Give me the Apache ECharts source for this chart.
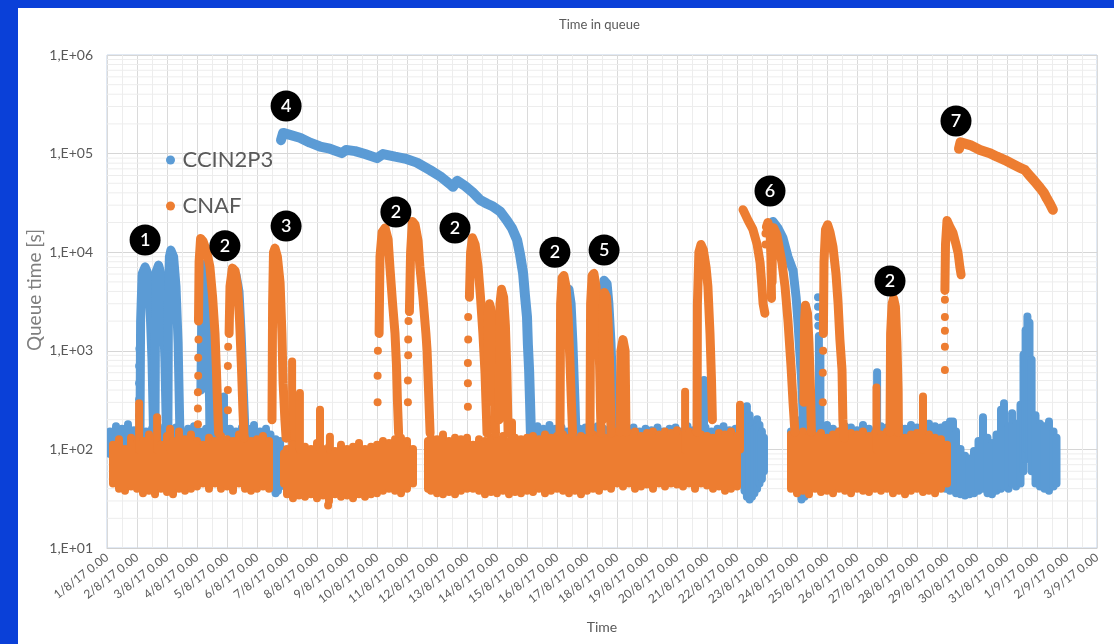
<!DOCTYPE html>
<html><head><meta charset="utf-8">
<script src="https://cdn.jsdelivr.net/npm/echarts@6/dist/echarts.min.js"></script>
<style>
html,body{margin:0;padding:0;background:#0a40d8;width:1114px;height:644px;overflow:hidden}
#c{position:absolute;left:18px;top:8px;width:1096px;height:636px;background:#fff}
</style></head><body><div id="c"></div>
<script>
const xLabels = ['1/8/17 0.00','2/8/17 0.00','3/8/17 0.00','4/8/17 0.00','5/8/17 0.00','6/8/17 0.00','7/8/17 0.00','8/8/17 0.00','9/8/17 0.00','10/8/17 0.00','11/8/17 0.00','12/8/17 0.00','13/8/17 0.00','14/8/17 0.00','15/8/17 0.00','16/8/17 0.00','17/8/17 0.00','18/8/17 0.00','19/8/17 0.00','20/8/17 0.00','21/8/17 0.00','22/8/17 0.00','23/8/17 0.00','24/8/17 0.00','25/8/17 0.00','26/8/17 0.00','27/8/17 0.00','28/8/17 0.00','29/8/17 0.00','30/8/17 0.00','31/8/17 0.00','1/9/17 0.00','2/9/17 0.00','3/9/17 0.00'];
const yTickValues = [10, 100, 1000, 10000, 100000, 1000000];
const yTickLabels = ['1,E+01','1,E+02','1,E+03','1,E+04','1,E+05','1,E+06'];

// Dense point clouds, as [day, lowest value, highest value] columns
const ccin2p3Band = [
[0.1,90,150],[0.3,95,170],[0.5,90,160],[0.7,100,178],[0.9,95,155],[1.1,90,165],[1.3,95,150],[1.5,100,160],[1.7,90,170],[1.9,95,150],[2.1,90,160],[2.3,100,165],[2.5,95,150],[2.7,90,160],[2.9,95,170],[3.1,90,150],[3.3,95,160],[3.5,90,145],[3.7,100,165],[3.9,150,340],[4.1,90,160],[4.3,95,150],[4.5,90,165],[4.7,95,160],[4.9,100,175],[5.1,95,150],[5.3,90,160],[5.45,95,140],
[5.55,40,120],[5.62,36,125],[5.7,38,110],[5.77,42,120],[5.83,45,100],
[14.15,90,150],[14.35,95,170],[14.55,90,160],[14.75,100,175],[14.95,95,160],[15.15,90,165],[15.35,95,150],[15.55,100,170],[15.75,90,160],[15.95,95,165],[16.15,90,155],[16.35,100,170],[16.55,95,160],[16.75,90,150],[16.95,95,155],[17.15,90,150],[17.35,100,160],[17.55,95,165],[17.75,90,150],[17.95,95,160],[18.15,90,155],[18.35,100,165],[18.55,95,150],[18.75,90,160],[18.95,95,165],[19.15,90,150],[19.35,100,170],[19.55,95,155],[19.75,90,160],[19.9,150,500],[19.95,95,165],[20.15,90,150],[20.35,100,160],[20.55,95,170],[20.75,90,155],[20.95,95,160],[21.1,90,150],
[21.17,45,190],[21.25,38,230],[21.33,33,270],[21.42,31,220],[21.5,33,180],[21.58,36,160],[21.67,40,200],[21.75,45,175],[21.83,50,150],[21.9,60,130],
[22.8,90,150],[23.0,95,165],[23.15,31,200],[23.25,33,180],[23.4,95,160],[23.6,90,170],[23.73,40,1400],[23.78,45,900],[23.8,95,160],[24.0,100,175],[24.2,95,160],[24.4,90,150],[24.6,100,170],[24.8,95,165],[25.0,90,155],[25.2,100,175],[25.4,95,160],[25.6,90,150],[25.67,150,600],[25.8,95,170],[26.0,100,165],[26.2,95,155],[26.4,90,170],[26.6,95,160],[26.8,100,175],[27.0,95,165],[27.2,90,160],[27.4,100,180],[27.6,95,170],[27.8,90,165],
[27.95,40,175],[28.1,38,190],[28.2,40,190],[28.3,36,150],[28.45,35,100],[28.6,34,85],[28.75,35,80],[28.9,36,95],[29.05,38,120],[29.2,40,210],[29.35,36,130],[29.5,35,115],[29.65,38,140],[29.8,40,250],[29.9,42,290],[30.05,40,170],[30.17,45,230],[30.3,42,180],[30.45,45,280],[30.55,60,900],[30.62,80,1600],[30.68,100,2200],[30.75,80,1900],[30.82,60,800],[30.95,45,220],[31.1,42,180],[31.25,40,170],[31.4,38,190],[31.55,42,150],[31.65,45,130]
];
// Continuous arcs of points, as [day, seconds]
const ccin2p3Arcs = [
[[1.1,150],[1.12,2000],[1.17,6000],[1.27,7100],[1.37,6000],[1.43,3000],[1.5,800],[1.55,150]],
[[1.6,150],[1.62,3000],[1.65,6500],[1.72,7400],[1.8,6000],[1.87,3000],[1.93,800],[1.98,150]],
[[2.03,150],[2.05,4000],[2.08,9000],[2.13,10500],[2.22,9000],[2.3,4500],[2.37,1200],[2.43,150]],
[[3.13,400],[3.17,4000],[3.23,7500],[3.32,5000],[3.37,1500],[3.42,300],[3.43,150]],
[[4.2,5000],[4.3,5900],[4.4,4000],[4.47,1500],[4.53,500],[4.6,150]],
[[15.27,4000],[15.4,4200],[15.47,3000],[15.53,1200],[15.6,300],[15.63,150]],
[[16.47,400],[16.5,3000],[16.57,5200],[16.67,4800],[16.73,3000],[16.8,1200],[16.87,300],[16.9,150]],
[[22.13,15000],[22.2,20500],[22.37,17500],[22.53,14000],[22.7,9000],[22.87,6500],[22.97,3500],[23.03,2000],[23.1,900],[23.17,430],[23.22,157]]
];
const ccin2p3Curve = [
[5.8,137000],[5.87,162000],[6.1,155000],[6.43,145000],[6.77,129000],[7.1,118000],[7.43,112000],[7.83,101000],[7.97,109000],[8.27,106000],[8.6,99000],[9.0,90000],[9.2,99000],[9.6,93000],[9.93,89000],[10.33,81000],[10.77,68000],[11.1,59000],[11.43,49000],[11.53,46000],[11.67,53000],[11.93,47000],[12.17,41000],[12.43,34000],[12.67,31000],[12.87,29000],[13.1,26000],[13.33,21000],[13.5,17500],[13.67,13300],[13.77,9400],[13.87,6100],[13.93,3700],[14.0,2200],[14.03,1150],[14.07,640],[14.1,317],[14.13,146]
];
// Isolated points, as [day, seconds]
const ccin2p3Dots = [
[1.07,220],[1.07,320],[1.07,470],[1.07,700],[1.08,1050],
[23.7,3500],[23.7,2800],[23.71,2200],[23.71,1800]
];

const cnafBand = [
[0.2,45,110],[0.4,40,125],[0.6,38,100],[0.8,42,130],[1.0,40,115],[1.07,100,290],[1.2,36,120],[1.4,38,140],[1.6,35,125],[1.67,100,210],[1.8,40,110],[2.0,37,135],[2.1,100,160],[2.2,35,120],[2.4,40,150],[2.6,38,125],[2.8,40,140],[3.0,42,120],[3.2,45,110],[3.4,40,130],[3.6,45,120],[3.8,40,135],[4.0,42,125],[4.2,38,120],[4.4,45,140],[4.6,40,130],[4.8,38,120],[5.0,40,125],[5.2,42,135],[5.4,40,120],
[5.9,45,90],[6.0,35,100],[6.17,100,770],[6.2,32,110],[6.4,34,95],[6.43,100,370],[6.6,33,105],[6.8,35,100],[7.0,32,115],[7.1,100,250],[7.2,34,100],[7.37,27,27],[7.4,30,105],[7.43,100,133],[7.6,35,95],[7.8,33,110],[8.0,34,100],[8.2,32,105],[8.4,35,115],[8.6,33,100],[8.8,35,105],[9.0,36,110],[9.2,38,120],[9.4,40,115],[9.6,38,125],[9.8,36,130],[10.0,40,120],[10.2,45,100],
[10.7,40,120],[10.8,38,130],[11.0,36,125],[11.2,35,140],[11.4,37,120],[11.6,35,130],[11.8,38,125],[12.0,40,130],[12.2,40,110],[12.4,38,125],[12.6,35,120],[12.8,37,130],[13.0,36,125],[13.2,38,135],[13.4,35,120],[13.5,100,185],[13.6,37,130],[13.8,36,125],[14.0,38,130],[14.2,37,135],[14.4,40,125],[14.6,36,140],[14.8,38,130],[15.0,40,135],[15.2,38,140],[15.4,36,130],[15.6,38,125],[15.8,35,135],[16.0,38,130],[16.2,40,140],[16.4,38,135],[16.6,42,130],[16.8,40,145],[17.0,45,150],[17.2,42,140],[17.4,45,145],[17.6,40,150],[17.8,42,135],[18.0,44,145],[18.2,40,150],[18.4,45,140],[18.6,42,150],[18.8,45,145],[19.0,44,155],[19.2,42,140],[19.27,100,380],[19.4,45,150],[19.6,40,145],[19.8,45,140],[20.0,43,135],[20.2,40,130],[20.4,42,145],[20.6,38,140],[20.8,40,150],[21.0,42,135],[21.1,100,280],
[22.8,40,140],[23.0,36,135],[23.2,38,150],[23.4,35,140],[23.6,40,135],[23.8,37,145],[24.0,38,130],[24.2,36,140],[24.4,40,150],[24.6,38,135],[24.8,36,145],[25.0,40,140],[25.2,38,150],[25.4,37,135],[25.6,40,145],[25.65,100,420],[25.8,38,140],[26.0,40,150],[26.2,36,135],[26.4,38,140],[26.6,35,130],[26.8,38,140],[27.0,40,145],[27.2,37,135],[27.2,100,340],[27.4,38,140],[27.6,36,130],[27.8,40,125],[28.0,45,110]
];
const cnafArcs = [
[[3.05,2000],[3.07,8000],[3.12,13800],[3.2,13000],[3.33,10000],[3.43,7100],[3.52,3500],[3.6,1500],[3.65,600],[3.68,317],[3.72,146]],
[[4.07,1500],[4.1,4500],[4.18,6900],[4.27,6500],[4.35,4500],[4.42,2000],[4.48,700],[4.53,250],[4.57,130]],
[[5.5,200],[5.52,3000],[5.55,10000],[5.6,11000],[5.68,9000],[5.77,4900],[5.83,1500],[5.87,470],[5.93,200],[5.97,130]],
[[9.07,1500],[9.1,9000],[9.17,16000],[9.27,17600],[9.37,13500],[9.43,7100],[9.52,3000],[9.6,1500],[9.65,700],[9.68,317],[9.72,146]],
[[10.08,2500],[10.12,10000],[10.18,20500],[10.27,19000],[10.37,13000],[10.43,7100],[10.53,3500],[10.63,1500],[10.67,1000],[10.73,317],[10.77,146]],
[[12.08,3500],[12.12,10000],[12.18,14000],[12.27,12000],[12.37,7100],[12.45,3500],[12.53,1500],[12.6,600],[12.63,317],[12.67,146]],
[[12.68,300],[12.7,2500],[12.75,3000],[12.82,2500],[12.87,1200],[12.92,400],[12.95,146]],
[[13.07,200],[13.1,3000],[13.15,4200],[13.22,3500],[13.28,1800],[13.33,600],[13.37,146]],
[[15.1,150],[15.12,3000],[15.17,5500],[15.23,5800],[15.3,4500],[15.37,2200],[15.43,800],[15.48,300],[15.52,146]],
[[16.1,150],[16.12,3000],[16.17,5800],[16.23,6100],[16.3,4500],[16.37,2000],[16.42,700],[16.45,250],[16.47,146]],
[[16.52,200],[16.53,2500],[16.58,3900],[16.65,3500],[16.7,2000],[16.75,800],[16.78,300],[16.8,146]],
[[17.1,150],[17.13,1000],[17.2,1300],[17.27,1000],[17.3,150]],
[[19.67,150],[19.68,3000],[19.73,10000],[19.8,12000],[19.88,10500],[19.97,7000],[20.03,4500],[20.1,1500],[20.15,500],[20.18,200]],
[[21.2,27000],[21.37,21000],[21.53,17000],[21.67,12000],[21.77,7800],[21.83,4500],[21.87,3000],[21.93,2400]],
[[21.98,18000],[22.03,20000],[22.1,17000],[22.13,9000],[22.15,3400]],
[[22.17,5000],[22.18,14000],[22.22,17700],[22.33,15000],[22.5,7800],[22.6,4500],[22.7,2000],[22.8,700],[22.87,290],[22.93,150]],
[[23.23,300],[23.25,2000],[23.28,2900],[23.35,2400],[23.4,1200],[23.45,400],[23.48,150]],
[[23.88,1500],[23.9,8000],[23.95,17000],[24.02,19000],[24.1,16000],[24.2,11300],[24.3,6000],[24.37,3000],[24.43,1300],[24.5,640],[24.53,199],[24.57,130]],
[[26.1,150],[26.12,1500],[26.17,3000],[26.22,3400],[26.28,2800],[26.33,1200],[26.37,400],[26.38,150]],
[[27.93,4100],[27.95,12000],[28.0,21000],[28.1,18000],[28.2,15700],[28.3,12000],[28.37,9800],[28.43,7000],[28.47,5900]]
];
const cnafCurve = [
[28.4,112000],[28.45,130000],[28.77,122000],[29.1,109000],[29.43,101000],[29.67,93000],[29.93,86000],[30.2,78000],[30.43,72000],[30.6,68000],[30.77,59000],[30.93,52000],[31.1,45000],[31.23,40000],[31.33,35000],[31.43,31000],[31.53,27000]
];
const cnafDots = [
[3.03,180],[3.03,260],[3.03,380],[3.04,560],[3.04,850],[3.05,1300],
[4.03,250],[4.03,400],[4.03,700],[4.04,1100],
[9.02,300],[9.02,560],[9.03,1000],
[10.03,300],[10.03,500],[10.04,900],[10.04,1300],[10.05,2000],
[12.03,270],[12.03,470],[12.03,750],[12.04,1300],[12.04,2200],
[21.95,15500],[21.95,12000],
[23.86,300],[23.86,600],[23.87,1000],
[27.93,640],[27.93,1100],[27.93,1600],[27.93,2200],[27.93,3300]
];
const annotations = [
[1.27,13300,'1'],[3.93,11600,'2'],[5.97,18400,'3'],[5.97,304000,'4'],[9.63,25600,'2'],[11.6,17600,'2'],[14.93,10000,'2'],[16.57,10500,'5'],[22.1,41700,'6'],[26.1,5100,'2'],[28.3,214000,'7']
];

const BLUE = '#5b9bd5', ORANGE = '#ed7d31';
const DOT = 8, ARC = 9, CURVE = 10;

const minorY = [];
for (let i = 0; i < yTickValues.length - 1; i++) {
  for (let k = 2; k <= 9; k++) minorY.push([yTickValues[i] * k]);
}

function colSeries(name, color, data, z) {
  return { name, type: 'custom', data, encode: { x: 0, y: [1, 2] }, clip: true, z, silent: true,
    itemStyle: { color },
    renderItem: (params, api) => {
      const p1 = api.coord([api.value(0), api.value(1)]), p2 = api.coord([api.value(0), api.value(2)]);
      return { type: 'line', shape: { x1: p1[0], y1: p1[1], x2: p2[0], y2: p2[1] - 0.5 },
        style: { stroke: color, lineWidth: DOT, lineCap: 'round' } };
    } };
}
function lineSeries(name, color, data, z, w) {
  return { name, type: 'line', data, symbol: 'none', showSymbol: false, z, silent: true,
    itemStyle: { color }, lineStyle: { color, width: w, cap: 'round', join: 'round' } };
}
function dotSeries(name, color, data, z) {
  return { name, type: 'scatter', data, symbol: 'circle', symbolSize: DOT, z, silent: true,
    itemStyle: { color, opacity: 1 } };
}

const series = [
  { type: 'custom', data: minorY, encode: { y: 0 }, z: 1, silent: true, clip: true,
    renderItem: (params, api) => {
      const a = api.coord([0, api.value(0)]), b = api.coord([33, api.value(0)]);
      return { type: 'line', shape: { x1: a[0], y1: a[1], x2: b[0], y2: b[1] },
        style: { stroke: '#ededed', lineWidth: 1 } };
    } },
  colSeries('CCIN2P3', BLUE, ccin2p3Band, 2)
];
ccin2p3Arcs.forEach(a => series.push(lineSeries('CCIN2P3', BLUE, a, 2, ARC)));
series.push(lineSeries('CCIN2P3', BLUE, ccin2p3Curve, 2, CURVE));
series.push(dotSeries('CCIN2P3', BLUE, ccin2p3Dots, 2));
series.push(colSeries('CNAF', ORANGE, cnafBand, 3));
cnafArcs.forEach(a => series.push(lineSeries('CNAF', ORANGE, a, 3, ARC)));
series.push(lineSeries('CNAF', ORANGE, cnafCurve, 3, CURVE));
series.push(dotSeries('CNAF', ORANGE, cnafDots, 3));
series.push({ type: 'scatter', data: annotations, symbol: 'circle', symbolSize: 31, z: 6, silent: true,
  itemStyle: { color: '#000000', opacity: 1 },
  label: { show: true, position: 'inside', color: '#ffffff', fontSize: 18, fontWeight: 600,
    fontFamily: 'Lato', formatter: p => p.data[2] } });

const chart = echarts.init(document.getElementById('c'), null, { renderer: 'canvas' });
chart.setOption({
  animation: false,
  backgroundColor: '#ffffff',
  textStyle: { fontFamily: 'Lato' },
  title: { text: 'Time in queue', left: 536, top: 5,
    textStyle: { fontSize: 13, fontWeight: 'normal', color: '#595959', fontFamily: 'Lato' } },
  graphic: [{ type: 'text', x: 17, y: 282, rotation: Math.PI / 2, z: 10,
    style: { text: 'Queue time [s]', font: 'normal 19px Lato', fontSize: 19, fontFamily: 'Lato',
      fill: '#7f7f7f', align: 'center', verticalAlign: 'middle', textAlign: 'center', textVerticalAlign: 'middle' } }],
  legend: { orient: 'vertical', left: 143, top: 136, itemWidth: 14, itemHeight: 9, itemGap: 24, z: 10,
    textStyle: { fontSize: 22, color: '#595959', fontFamily: 'Lato' },
    data: [{ name: 'CCIN2P3', icon: 'circle' }, { name: 'CNAF', icon: 'circle' }] },
  grid: { left: 89, right: 17, top: 47, bottom: 96, show: true, borderColor: '#c3d3e8', borderWidth: 1 },
  xAxis: {
    type: 'value', min: 0, max: 33, interval: 1,
    name: 'Time', nameLocation: 'middle', nameGap: 72,
    nameTextStyle: { fontSize: 14, color: '#595959', fontFamily: 'Lato' },
    axisLabel: { rotate: 38, fontSize: 12, color: '#595959', margin: 8,
      formatter: v => xLabels[Math.round(v)] },
    axisLine: { show: true, lineStyle: { color: '#d0d0d0' } },
    axisTick: { show: false },
    splitLine: { show: true, lineStyle: { color: '#dadada' } },
    minorTick: { show: false, splitNumber: 2 },
    minorSplitLine: { show: true, lineStyle: { color: '#ededed' } }
  },
  yAxis: {
    type: 'log', logBase: 10, min: 10, max: 1000000,
    axisLabel: { fontSize: 14, color: '#595959', margin: 14,
      formatter: v => { const i = yTickValues.findIndex(t => Math.abs(t - v) / t < 1e-6); return i >= 0 ? yTickLabels[i] : ''; } },
    axisLine: { show: false }, axisTick: { show: false },
    splitLine: { show: true, lineStyle: { color: '#d6d6d6' } }
  },
  series
});
</script></body></html>
